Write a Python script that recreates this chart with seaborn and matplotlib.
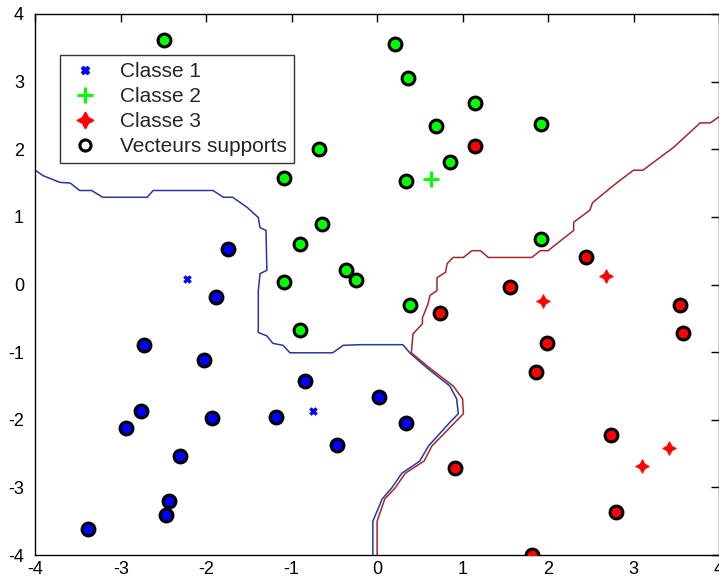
import numpy as np
import pandas as pd
import matplotlib
matplotlib.use('Agg')
import matplotlib.pyplot as plt
from matplotlib.lines import Line2D
import seaborn as sns

# Classe 1 (bleu)
c1_x = [-2.22, -0.75]
c1_y = [0.08, -1.87]
c1_sv_x = [-1.75, -1.88, -2.73, -2.03, -0.84, 0.02, -2.76, -2.94, -1.93, -1.18, 0.34, -0.47, -2.31, -2.43, -2.47, -3.38]
c1_sv_y = [0.53, -0.18, -0.90, -1.11, -1.42, -1.66, -1.87, -2.12, -1.98, -1.96, -2.05, -2.38, -2.54, -3.20, -3.41, -3.62]

# Classe 2 (vert)
c2_x = [0.63]
c2_y = [1.56]
c2_sv_x = [-2.49, 0.21, 0.36, 1.15, 0.69, 1.92, -0.68, 0.85, -1.09, 0.34, -0.64, -0.90, 1.92, -0.36, -0.25, -1.09, 0.38, -0.90]
c2_sv_y = [3.62, 3.55, 3.05, 2.68, 2.35, 2.37, 2.00, 1.81, 1.58, 1.53, 0.90, 0.60, 0.67, 0.21, 0.06, 0.03, -0.30, -0.68]

# Classe 3 (rouge)
c3_x = [1.94, 2.68, 3.41, 3.10]
c3_y = [-0.25, 0.13, -2.42, -2.68]
c3_sv_x = [1.15, 2.44, 1.56, 3.54, 0.74, 3.58, 1.99, 1.86, 2.74, 0.91, 2.80, 1.81]
c3_sv_y = [2.05, 0.41, -0.03, -0.30, -0.42, -0.71, -0.86, -1.30, -2.22, -2.71, -3.36, -4.00]

# frontieres de decision
f1_x = [-4.0, -3.91, -3.71, -3.59, -3.48, -3.34, -3.21, -2.69, -2.62, -1.92, -1.80, -1.69, -1.52, -1.39,
        -1.37, -1.30, -1.29, -1.37, -1.39, -1.39, -1.29, -1.22, -1.10, -1.02, -0.52, -0.43, -0.40, -0.20,
        0.30, 0.39, 0.59, 0.85, 0.93, 0.95, 0.85, 0.60, 0.50, 0.29, 0.17, 0.06, -0.05, -0.05]
f1_y = [1.69, 1.61, 1.51, 1.50, 1.39, 1.39, 1.29, 1.29, 1.39, 1.39, 1.29, 1.29, 1.14, 0.99,
        0.84, 0.80, 0.21, 0.16, -0.09, -0.71, -0.76, -0.87, -0.90, -1.01, -1.01, -0.93, -0.90, -0.89,
        -0.89, -1.02, -1.24, -1.50, -1.69, -1.91, -2.04, -2.39, -2.61, -2.79, -3.01, -3.17, -3.50, -4.05]

f3_x = [4.0, 3.90, 3.78, 3.47, 3.11, 3.00, 2.81, 2.52, 2.49, 2.30, 2.30, 2.00, 1.91, 1.81, 1.30, 1.21,
        1.11, 1.01, 0.89, 0.82, 0.80, 0.70, 0.70, 0.62, 0.59, 0.53, 0.53, 0.42, 0.40, 0.62, 0.89, 1.00,
        1.01, 0.91, 0.64, 0.55, 0.33, 0.21, 0.09, 0.0, 0.0]
f3_y = [2.48, 2.39, 2.39, 2.03, 1.69, 1.69, 1.51, 1.21, 1.10, 0.92, 0.80, 0.50, 0.50, 0.40, 0.40, 0.50,
        0.50, 0.40, 0.40, 0.31, 0.18, 0.10, -0.09, -0.16, -0.31, -0.49, -0.58, -0.73, -1.01, -1.24, -1.50, -1.69,
        -1.91, -2.04, -2.39, -2.61, -2.79, -3.01, -3.17, -3.50, -4.05]

labels = ['Classe 1', 'Classe 2', 'Classe 3', 'Vecteurs supports']
colors = ['#0000ff', '#00ff00', '#ff0000']
markers = ['X', 'P', (4, 1, 0)]

sns.set_style('white')
plt.rcParams['font.family'] = ['Liberation Sans', 'DejaVu Sans']
plt.rcParams['axes.unicode_minus'] = False

fig = plt.figure(figsize=(7.19, 5.83), dpi=100)
ax = fig.add_axes([0.049, 0.048, 0.951, 0.928])

ax.plot(f1_x, f1_y, color='#28389c', lw=1.1, zorder=2)
ax.plot(f3_x, f3_y, color='#a3272a', lw=1.1, zorder=2)

sv_sets = [(c1_sv_x, c1_sv_y), (c2_sv_x, c2_sv_y), (c3_sv_x, c3_sv_y)]
pt_sets = [(c1_x, c1_y), (c2_x, c2_y), (c3_x, c3_y)]
sizes = [30, 110, 100]
for i in range(3):
    sx, sy = sv_sets[i]
    sns.scatterplot(x=sx, y=sy, ax=ax, color=colors[i], marker='o', s=85,
                    edgecolor='black', linewidth=2.2, zorder=3)
    px, py = pt_sets[i]
    if i == 1:
        ax.scatter(px, py, marker='+', s=130, color=colors[i], linewidths=2.2, zorder=4)
    else:
        sns.scatterplot(x=px, y=py, ax=ax, color=colors[i], marker=markers[i], s=sizes[i],
                        edgecolor=colors[i], linewidth=0.5, zorder=4)

ax.set_xlim(-4, 4)
ax.set_ylim(-4, 4)
ax.set_xticks(range(-4, 5))
ax.set_yticks(range(-4, 5))
ax.tick_params(direction='in', length=6, width=1, top=True, right=True,
               labelsize=13, colors='black', pad=4)
ax.tick_params(axis='y', pad=8)
for s in ax.spines.values():
    s.set_color('black')
    s.set_linewidth(1)

handles = [
    Line2D([], [], ls='none', marker='X', color=colors[0], markersize=6),
    Line2D([], [], ls='none', marker='+', color=colors[1], markersize=12, markeredgewidth=2.2),
    Line2D([], [], ls='none', marker=(4, 1, 0), color=colors[2], markersize=12),
    Line2D([], [], ls='none', marker='o', markerfacecolor='none', markeredgecolor='black',
           markersize=8, markeredgewidth=2.2),
]
leg = ax.legend(handles, labels, loc='upper left', bbox_to_anchor=(0.0365, 0.924),
                borderaxespad=0, fontsize=15, frameon=True, fancybox=False, edgecolor='black',
                handletextpad=0.8, labelspacing=0.28, borderpad=0.35, handlelength=1.7)
leg.get_frame().set_linewidth(1)

fig.savefig('out.png', dpi=100)
